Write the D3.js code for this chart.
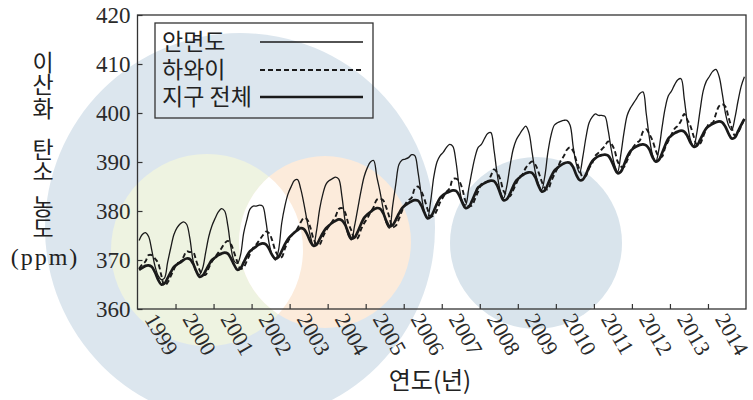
<!DOCTYPE html>
<html>
<head>
<meta charset="utf-8">
<script src="https://cdn.jsdelivr.net/npm/d3@7"></script>
<style>
  body { margin: 0; background: #fff; }
  svg { display: block; }
</style>
</head>
<body>
<div id="chart"></div>
<script>
// years on the x axis
var years = [1999, 2000, 2001, 2002, 2003, 2004, 2005, 2006, 2007, 2008, 2009, 2010, 2011, 2012, 2013, 2014];
var yTicks = [360, 370, 380, 390, 400, 410, 420];

// monthly CO2 (ppm), Jan..Dec for each year
var anmyeondo = [
  374.0, 375.2, 375.6, 374.8, 372.0, 368.8, 366.8, 366.0, 366.3, 369.5, 372.5, 375.2,
  376.6, 377.4, 377.8, 377.3, 374.5, 370.0, 367.6, 367.0, 368.2, 371.5, 374.8, 377.0,
  378.5, 379.8, 380.5, 380.0, 377.0, 372.5, 369.8, 369.3, 371.0, 375.5, 378.2, 380.4,
  381.0, 381.0, 381.2, 381.0, 378.0, 373.5, 371.0, 370.0, 372.0, 377.5, 381.0, 383.5,
  385.0, 386.2, 386.4, 384.5, 381.5, 378.0, 375.0, 372.9, 376.0, 380.5, 383.5, 385.5,
  386.2, 386.6, 386.9, 386.5, 383.0, 378.0, 375.0, 374.1, 377.0, 380.5, 384.0, 387.0,
  388.8, 390.0, 390.3, 387.0, 384.0, 380.5, 377.5, 376.5, 381.0, 385.5, 389.5, 390.4,
  390.6, 390.9, 391.5, 391.3, 388.0, 383.5, 380.0, 378.6, 382.0, 387.0, 390.0, 391.3,
  392.0, 393.0, 393.6, 393.2, 390.0, 385.0, 382.0, 381.2, 384.5, 388.0, 391.0, 393.0,
  393.6, 394.8, 395.8, 396.0, 392.4, 387.5, 384.0, 382.6, 385.0, 389.0, 392.5, 394.5,
  395.6, 396.6, 397.3, 396.0, 392.0, 388.0, 385.5, 384.3, 387.0, 392.0, 395.5, 397.5,
  398.0, 398.3, 398.5, 398.5, 397.5, 393.0, 389.5, 387.8, 391.0, 395.0, 398.0, 399.2,
  399.8, 399.5, 399.5, 399.3, 396.5, 392.5, 389.5, 388.0, 391.5, 396.0, 399.5, 401.0,
  402.0, 403.0, 404.0, 404.3, 400.0, 395.0, 391.5, 390.0, 392.5, 397.0, 401.0, 403.5,
  404.5, 405.8, 406.8, 407.0, 403.0, 398.0, 394.5, 393.2, 396.0, 400.5, 404.5, 406.5,
  407.5, 408.5, 408.9, 407.5, 404.0, 400.0, 397.5, 396.5, 399.0, 402.5, 405.5, 407.4
];
var hawaii = [
  368.2, 369.1, 369.7, 371.0, 371.0, 370.3, 369.4, 366.9, 364.8, 365.4, 366.7, 368.1,
  369.3, 369.6, 370.6, 371.8, 371.6, 371.7, 369.9, 368.1, 367.0, 367.0, 368.4, 369.7,
  370.6, 371.5, 372.4, 373.4, 373.9, 373.2, 371.5, 369.6, 368.2, 368.5, 369.8, 371.2,
  372.5, 373.2, 374.1, 375.0, 375.8, 375.5, 374.0, 371.9, 370.8, 370.6, 372.3, 373.8,
  374.9, 375.6, 376.5, 377.7, 378.6, 378.3, 376.7, 374.4, 373.2, 373.2, 374.7, 376.0,
  377.0, 377.9, 378.9, 380.4, 380.6, 379.7, 377.5, 376.0, 374.3, 374.5, 376.2, 377.5,
  378.5, 379.7, 380.8, 382.3, 382.5, 382.2, 380.7, 378.7, 376.7, 377.0, 378.4, 380.1,
  381.4, 382.2, 382.7, 384.6, 385.0, 384.1, 382.5, 380.4, 378.9, 379.1, 380.2, 381.8,
  382.9, 383.9, 384.6, 386.5, 386.6, 386.1, 384.5, 382.0, 381.0, 381.1, 382.5, 384.0,
  385.5, 385.8, 386.0, 387.2, 388.5, 387.8, 386.4, 384.1, 383.2, 383.0, 384.2, 385.6,
  386.9, 387.5, 388.8, 389.6, 390.1, 389.5, 388.0, 386.1, 384.7, 384.4, 386.0, 387.4,
  388.7, 390.2, 391.2, 392.5, 393.0, 392.2, 390.2, 388.4, 386.9, 387.2, 388.7, 389.8,
  391.3, 391.9, 392.6, 393.3, 394.2, 393.7, 392.5, 390.1, 389.1, 389.0, 390.3, 391.9,
  393.1, 393.9, 394.4, 396.2, 396.7, 395.7, 394.4, 392.4, 391.1, 391.1, 393.0, 394.3,
  395.6, 396.8, 397.4, 398.4, 399.8, 398.6, 397.3, 395.2, 393.5, 393.7, 395.2, 396.8,
  397.9, 398.0, 399.8, 401.4, 401.8, 401.3, 399.1, 397.0, 395.4, 396.0, 397.3, 398.9
];
var globalMean = [
  368.0, 368.4, 368.8, 368.9, 368.6, 367.5, 366.0, 365.0, 365.2, 366.3, 367.5, 368.6,
  369.1, 369.5, 370.0, 370.3, 370.2, 369.3, 367.8, 366.6, 366.8, 367.8, 369.0, 370.0,
  370.5, 371.0, 371.3, 371.5, 371.3, 370.3, 369.0, 368.0, 368.3, 369.5, 370.8, 371.8,
  372.3, 372.8, 373.2, 373.4, 373.2, 372.3, 371.0, 370.3, 370.6, 371.8, 373.2, 374.3,
  375.0, 375.6, 376.1, 376.5, 376.3, 375.3, 373.8, 372.9, 373.1, 374.3, 375.5, 376.5,
  377.1, 377.6, 378.0, 378.3, 378.1, 377.2, 375.6, 374.4, 374.6, 375.8, 377.3, 378.6,
  379.3, 379.8, 380.3, 380.6, 380.5, 379.6, 378.0, 376.9, 377.1, 378.2, 379.5, 380.6,
  381.2, 381.6, 382.0, 382.2, 382.1, 381.2, 379.7, 378.5, 378.8, 380.0, 381.5, 382.7,
  383.3, 383.7, 384.0, 384.2, 384.1, 383.2, 381.7, 380.6, 380.8, 382.0, 383.5, 384.8,
  385.3, 385.7, 386.0, 386.2, 386.1, 385.2, 383.5, 382.2, 382.4, 383.5, 385.0, 386.2,
  386.8, 387.3, 387.7, 387.9, 387.8, 386.9, 385.2, 384.0, 384.2, 385.5, 387.0, 388.2,
  388.8, 389.3, 389.7, 389.9, 389.8, 388.9, 387.3, 386.3, 386.4, 387.5, 389.0, 390.2,
  390.8, 391.2, 391.4, 391.5, 391.3, 390.3, 388.8, 387.7, 388.0, 389.4, 391.0, 392.2,
  392.8, 393.2, 393.5, 393.6, 393.4, 392.6, 391.0, 390.1, 390.4, 391.8, 393.4, 394.8,
  395.4, 395.9, 396.2, 396.4, 396.2, 395.3, 393.9, 393.1, 393.3, 394.5, 395.8, 396.9,
  397.4, 397.8, 398.1, 398.3, 398.1, 397.2, 395.8, 394.8, 395.0, 396.3, 397.6, 398.8
];

var seriesNames = ["안면도", "하와이", "지구 전체"];

var W = 753, H = 400;
var margin = {top: 15, right: 7, bottom: 91, left: 137.5};

var svg = d3.select("#chart").append("svg")
    .attr("width", W)
    .attr("height", H);

// faint watermark circles behind the chart
var bg = svg.append("g");
bg.append("circle").attr("cx", 240).attr("cy", 228).attr("r", 195).attr("fill", "#dce6ee");
bg.append("circle").attr("cx", 536).attr("cy", 243).attr("r", 86).attr("fill", "#d9e4ec");
bg.append("circle").attr("cx", 207).attr("cy", 250).attr("r", 96).attr("fill", "#eef3e1");
bg.append("circle").attr("cx", 325).attr("cy", 242).attr("r", 86).attr("fill", "#fcebdb");
svg.append("clipPath").attr("id", "greenClip")
  .append("circle").attr("cx", 207).attr("cy", 250).attr("r", 96);
bg.append("circle").attr("cx", 325).attr("cy", 242).attr("r", 86)
    .attr("fill", "#ffffff").attr("clip-path", "url(#greenClip)");

var x = d3.scaleLinear()
    .domain([1999, 2015])
    .range([margin.left, W - margin.right]);
var y = d3.scaleLinear()
    .domain([360, 420])
    .range([H - margin.bottom, margin.top]);

function toPoints(values) {
  return values.map(function(v, i) {
    return {t: years[0] + Math.floor(i / 12) + ((i % 12) + 0.5) / 12, v: v};
  });
}

var line = d3.line()
    .x(function(d) { return x(d.t); })
    .y(function(d) { return y(d.v); })
    .curve(d3.curveCatmullRom.alpha(0.5));

var ink = "#1a1a1a";

// series lines
svg.append("path")
    .datum(toPoints(anmyeondo))
    .attr("fill", "none")
    .attr("stroke", ink)
    .attr("stroke-width", 1.3)
    .attr("d", line);
svg.append("path")
    .datum(toPoints(hawaii))
    .attr("fill", "none")
    .attr("stroke", ink)
    .attr("stroke-width", 1.9)
    .attr("stroke-dasharray", "5,3")
    .attr("d", line);
svg.append("path")
    .datum(toPoints(globalMean))
    .attr("fill", "none")
    .attr("stroke", ink)
    .attr("stroke-width", 2.7)
    .attr("d", line);

// frame
svg.append("rect")
    .attr("x", x(1999))
    .attr("y", y(420))
    .attr("width", x(2015) - x(1999))
    .attr("height", y(360) - y(420))
    .attr("fill", "none")
    .attr("stroke", "#333")
    .attr("stroke-width", 1.3);

var serif = "'Liberation Serif', 'Times New Roman', serif";
var kfont = "'Noto Sans CJK KR', 'Noto Sans', sans-serif";

// y axis, ticks inside
var yAxis = svg.append("g")
    .attr("transform", "translate(" + x(1999) + ",0)")
    .call(d3.axisLeft(y).tickValues(yTicks).tickSize(-5).tickPadding(7));
yAxis.select(".domain").remove();
yAxis.selectAll("line").attr("stroke", "#333").attr("stroke-width", 1.2);
yAxis.selectAll("text")
    .attr("fill", "#2a2a2a")
    .style("font-family", serif)
    .style("font-size", "23px");

// x axis, ticks inside at year boundaries
var xAxis = svg.append("g")
    .attr("transform", "translate(0," + y(360) + ")")
    .call(d3.axisBottom(x).tickValues(years.slice(1)).tickSize(-5).tickFormat(""));
xAxis.select(".domain").remove();
xAxis.selectAll("line").attr("stroke", "#333").attr("stroke-width", 1.2);

// rotated year labels centred on each year
svg.append("g").selectAll("text")
    .data(years)
    .enter().append("text")
    .attr("transform", function(d) {
      return "translate(" + (x(d + 0.5) - 12.5) + "," + (y(360) + 10) + ") rotate(60)";
    })
    .attr("fill", "#2a2a2a")
    .style("font-family", serif)
    .style("font-size", "22px")
    .text(function(d) { return d; });

// axis titles
svg.append("text")
    .attr("x", 430)
    .attr("y", 389)
    .attr("text-anchor", "middle")
    .attr("fill", "#222")
    .style("font-family", kfont)
    .style("font-size", "24px")
    .text("연도(년)");

// vertical y title: one text, one tspan per syllable
var yTitle = [["이", 63], ["산", 85], ["화", 109], ["탄", 150], ["소", 172], ["농", 207], ["도", 229]];
var yt = svg.append("text")
    .attr("text-anchor", "middle")
    .attr("fill", "#222")
    .style("font-family", kfont)
    .style("font-size", "23px");
yt.selectAll("tspan")
    .data(yTitle)
    .enter().append("tspan")
    .attr("x", 43)
    .attr("y", function(d) { return d[1] + 8; })
    .text(function(d) { return d[0]; });
yt.append("tspan")
    .attr("x", 45)
    .attr("y", 265)
    .style("font-family", serif)
    .style("font-size", "24px")
    .style("letter-spacing", "2px")
    .text("(ppm)");

// legend
var legend = svg.append("g");
legend.append("rect")
    .attr("x", 155).attr("y", 23)
    .attr("width", 218).attr("height", 95)
    .attr("fill", "none")
    .attr("stroke", "#333")
    .attr("stroke-width", 1.3);
var legendRows = [
  {name: seriesNames[0], y: 42, w: 1.3, dash: null},
  {name: seriesNames[1], y: 70, w: 1.9, dash: "5,3"},
  {name: seriesNames[2], y: 97, w: 2.7, dash: null}
];
legendRows.forEach(function(r) {
  legend.append("text")
      .attr("x", 162)
      .attr("y", r.y)
      .attr("dy", "0.36em")
      .attr("fill", "#222")
      .style("font-family", kfont)
      .style("font-size", "23px")
      .text(r.name);
  legend.append("line")
      .attr("x1", 260).attr("x2", 363)
      .attr("y1", r.y).attr("y2", r.y)
      .attr("stroke", ink)
      .attr("stroke-width", r.w)
      .attr("stroke-dasharray", r.dash);
});
</script>
</body>
</html>
